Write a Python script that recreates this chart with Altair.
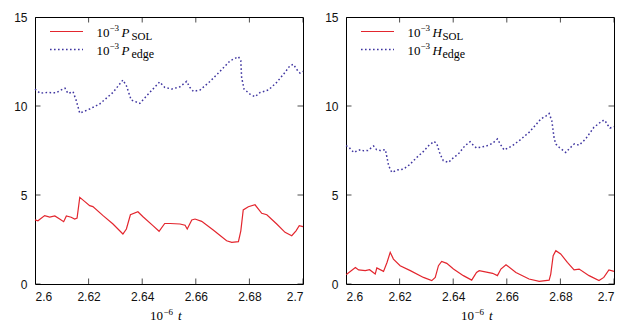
import altair as alt
import pandas as pd

# ---------------- data ----------------
t_P_edge = [2.6, 2.6019, 2.6045, 2.6078, 2.6104, 2.6112, 2.6123, 2.6142, 2.6154, 2.6167,
            2.6204, 2.6241, 2.6291, 2.6328, 2.6341, 2.6359, 2.6391, 2.6428, 2.6465, 2.6484,
            2.6510, 2.6541, 2.6566, 2.6578, 2.6591, 2.6616, 2.6653, 2.6690, 2.6728, 2.6759,
            2.6768, 2.6771, 2.6780, 2.6802, 2.6821, 2.6840, 2.6871, 2.6902, 2.6933, 2.6951,
            2.6964, 2.6982, 2.6989, 2.7]
P_edge = [10.95, 10.72, 10.76, 10.74, 10.95, 11.0, 10.71, 10.8, 10.3, 9.6,
          9.83, 10.11, 10.76, 11.46, 11.14, 10.34, 10.15, 10.76, 11.35, 11.05,
          10.95, 11.08, 11.38, 11.04, 10.82, 10.9, 11.38, 11.94, 12.54, 12.77,
          12.55, 11.61, 10.95, 10.67, 10.52, 10.76, 10.9, 11.33, 11.89, 12.26,
          12.34, 11.94, 11.85, 11.95]

t_P_SOL = [2.6, 2.6011, 2.6036, 2.6055, 2.6074, 2.6092, 2.6107, 2.6117, 2.6135, 2.6148,
           2.6157, 2.6167, 2.6185, 2.6204, 2.6216, 2.6254, 2.6291, 2.6328, 2.6341, 2.6356,
           2.6384, 2.6403, 2.6440, 2.6463, 2.6484, 2.6504, 2.6541, 2.6560, 2.6568, 2.6585,
           2.6597, 2.6622, 2.6665, 2.6715, 2.6734, 2.6759, 2.6768, 2.6777, 2.6796, 2.6821,
           2.6846, 2.6865, 2.6902, 2.6933, 2.6958, 2.6974, 2.6986, 2.7]
P_SOL = [3.6, 3.55, 3.84, 3.76, 3.82, 3.65, 3.5, 3.82, 3.75, 3.65,
         3.7, 4.87, 4.64, 4.4, 4.35, 3.84, 3.37, 2.81, 3.09, 3.89,
         4.06, 3.78, 3.28, 2.96, 3.4, 3.4, 3.37, 3.3, 3.09, 3.6,
         3.65, 3.52, 3.03, 2.43, 2.34, 2.38, 2.99, 4.16, 4.34, 4.45,
         3.97, 3.89, 3.37, 2.9, 2.71, 2.99, 3.28, 3.22]

t_H_edge = [2.6, 2.6010, 2.6029, 2.6044, 2.6055, 2.6066, 2.6081, 2.6103, 2.6114, 2.6128,
            2.6147, 2.6159, 2.6171, 2.6192, 2.6215, 2.6237, 2.6264, 2.6289, 2.6308, 2.6329,
            2.6339, 2.6351, 2.6363, 2.6382, 2.6401, 2.6419, 2.6444, 2.6463, 2.6475, 2.6487,
            2.6497, 2.6523, 2.6547, 2.6565, 2.6576, 2.6590, 2.6621, 2.6650, 2.6683, 2.6706,
            2.6727, 2.6747, 2.6758, 2.6768, 2.6777, 2.6784, 2.6796, 2.6820, 2.6833, 2.6852,
            2.6870, 2.6894, 2.6925, 2.6956, 2.6966, 2.6973, 2.6985, 2.7]
H_edge = [7.77, 7.7, 7.39, 7.5, 7.55, 7.48, 7.5, 7.75, 7.55, 7.5,
          7.55, 6.65, 6.27, 6.4, 6.46, 6.7, 7.11, 7.45, 7.77, 8.01,
          7.87, 7.3, 6.93, 6.83, 7.1, 7.3, 7.77, 7.99, 7.8, 7.64,
          7.67, 7.75, 7.9, 8.15, 7.85, 7.53, 7.77, 8.1, 8.52, 8.9,
          9.27, 9.45, 9.58, 9.17, 8.15, 7.85, 7.67, 7.39, 7.6, 7.87,
          7.8, 8.15, 8.8, 9.17, 9.2, 9.0, 8.76, 8.84]

t_H_SOL = [2.6, 2.6004, 2.6035, 2.6047, 2.6072, 2.6088, 2.6109, 2.6115, 2.6140, 2.6153,
           2.6165, 2.6177, 2.6202, 2.6240, 2.6289, 2.6320, 2.6333, 2.6345, 2.6357, 2.6376,
           2.6401, 2.6438, 2.6469, 2.6487, 2.6497, 2.6547, 2.6565, 2.6578, 2.6597, 2.6634,
           2.6683, 2.6721, 2.6758, 2.6764, 2.6773, 2.6783, 2.6801, 2.6826, 2.6851, 2.6870,
           2.6907, 2.6944, 2.6962, 2.6981, 2.7]
H_SOL = [0.54, 0.56, 0.93, 0.79, 0.75, 0.8, 0.56, 0.9, 0.71, 1.21,
         1.78, 1.4, 1.03, 0.75, 0.37, 0.19, 0.37, 1.03, 1.27, 1.16,
         0.84, 0.47, 0.22, 0.65, 0.75, 0.6, 0.47, 0.84, 1.08, 0.65,
         0.28, 0.15, 0.22, 0.56, 1.59, 1.87, 1.69, 1.21, 0.79, 0.84,
         0.47, 0.19, 0.37, 0.79, 0.71]

x_ticks = [2.6, 2.62, 2.64, 2.66, 2.68, 2.7]
y_ticks = [0, 5, 10, 15]

# ---------------- styling ----------------
W, H = 268, 267
RED = "#e3262e"
BLUE = "#3f35a0"
SERIF = "Liberation Serif"
SANS = "Liberation Sans"

xs = alt.Scale(domain=[2.6, 2.7], nice=False, zero=False)
ys = alt.Scale(domain=[0, 15], nice=False, zero=False)
one = alt.Data(values=[{}])


def txt(s, x, y, size=12, style="normal", align="left"):
    return alt.Chart(one).mark_text(
        text=s, font=SERIF, fontSize=size, fontStyle=style, align=align,
        baseline="alphabetic", color="black"
    ).encode(x=alt.value(x), y=alt.value(y))


def panel(t_sol, v_sol, t_edge, v_edge, sym):
    sol = alt.Chart(pd.DataFrame({"t": t_sol, "v": v_sol})).mark_line(
        color=RED, strokeWidth=1.2
    ).encode(
        x=alt.X("t:Q", scale=xs, axis=alt.Axis(values=x_ticks, format=".2~f", title=None,
                                                 ticks=False, domain=False, grid=False,
                                                 labelPadding=7)),
        y=alt.Y("v:Q", scale=ys, axis=alt.Axis(values=y_ticks, title=None, ticks=False,
                                                 domain=False, grid=False, labelPadding=8)),
    )
    edge = alt.Chart(pd.DataFrame({"t": t_edge, "v": v_edge})).mark_line(
        color=BLUE, strokeWidth=1.5, strokeDash=[1.6, 2.4]
    ).encode(x=alt.X("t:Q", scale=xs), y=alt.Y("v:Q", scale=ys))

    xt = pd.DataFrame({"t": x_ticks})
    yt = pd.DataFrame({"v": y_ticks})
    tick_b = alt.Chart(xt).mark_tick(orient="vertical", size=11, thickness=1, color="black",
                                     clip=True).encode(x=alt.X("t:Q", scale=xs), y=alt.value(H))
    tick_t = alt.Chart(xt).mark_tick(orient="vertical", size=11, thickness=1, color="black",
                                     clip=True).encode(x=alt.X("t:Q", scale=xs), y=alt.value(0))
    tick_l = alt.Chart(yt).mark_tick(orient="horizontal", size=11, thickness=1, color="black",
                                     clip=True).encode(y=alt.Y("v:Q", scale=ys), x=alt.value(0))
    tick_r = alt.Chart(yt).mark_tick(orient="horizontal", size=11, thickness=1, color="black",
                                     clip=True).encode(y=alt.Y("v:Q", scale=ys), x=alt.value(W))

    # legend
    leg_red = alt.Chart(one).mark_rule(color=RED, strokeWidth=1.2).encode(
        x=alt.value(15), x2=alt.value(48), y=alt.value(14.5))
    leg_blue = alt.Chart(one).mark_rule(color=BLUE, strokeWidth=1.5, strokeDash=[1.6, 2.4]).encode(
        x=alt.value(15), x2=alt.value(48), y=alt.value(32.5))
    legend = [
        txt("10", 61.5, 19.5, size=13), txt("\u2212" + "3", 74.5, 13.5, size=9),
        txt(sym, 86.5, 19.5, size=13, style="italic"), txt("SOL", 96.5, 22.5, size=11),
        txt("10", 61.5, 38, size=13), txt("\u2212" + "3", 74.5, 32, size=9),
        txt(sym, 86.5, 38, size=13, style="italic"), txt("edge", 96.5, 41, size=12),
    ]
    # x title: 10^-6 t
    cx = W / 2
    xtitle = [txt("10", cx - 19, H + 36, size=13), txt("\u2212" + "6", cx - 5.5, H + 30.5, size=9),
              txt("t", cx + 9, H + 36, size=13, style="italic")]

    return alt.layer(sol, edge, tick_b, tick_t, tick_l, tick_r, leg_red, leg_blue,
                     *legend, *xtitle).properties(width=W, height=H)


left = panel(t_P_SOL, P_SOL, t_P_edge, P_edge, "P")
right = panel(t_H_SOL, H_SOL, t_H_edge, H_edge, "H")

chart = alt.hconcat(left, right, spacing=43, bounds="flush").configure_view(
    stroke="black", strokeWidth=1
).configure_axis(
    labelFont=SANS, labelFontSize=12, labelColor="#111"
).properties(padding={"left": 5, "top": 2, "right": 5, "bottom": 0})

chart.save("out.html", embed_options={"renderer": "svg", "actions": False})
